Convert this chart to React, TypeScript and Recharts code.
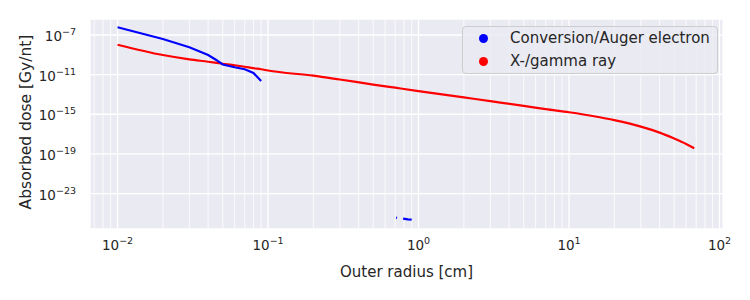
import { LineChart, Line, XAxis, YAxis, CartesianGrid, ReferenceLine } from 'recharts'

// outer radius [cm] and absorbed dose [Gy/nt]
const gammaRadius = [0.01, 0.02, 0.03, 0.04, 0.05, 0.06, 0.07, 0.08, 0.09, 0.1, 0.2, 0.3, 0.5, 0.7, 1, 2, 3, 5, 7, 10, 15, 20, 25, 30, 40, 50, 60, 68]
const gammaDose = [1.05e-8, 9.5e-10, 3.5e-10, 2.0e-10, 1.26e-10, 8.9e-11, 6.3e-11, 4.5e-11, 3.5e-11, 2.6e-11, 7.8e-12, 3.2e-12, 1.0e-12, 4.8e-13, 2.2e-13, 5.0e-14, 2.1e-14, 7.1e-15, 3.3e-15, 1.6e-15, 6.0e-16, 2.6e-16, 1.2e-16, 5.6e-17, 1.4e-17, 3.5e-18, 1.0e-18, 3.7e-19]

const electronRadius = [0.01, 0.02, 0.03, 0.04, 0.045, 0.05, 0.06, 0.07, 0.08, 0.09]
const electronDose = [6.0e-7, 4.0e-8, 5.8e-9, 9.5e-10, 3.2e-10, 1.05e-10, 5.6e-11, 3.5e-11, 1.5e-11, 2.3e-12]

// two stray fragments of the electron curve near 1 cm
const electronTailARadius = [0.71, 0.72]
const electronTailADose = [3.7e-26, 3.5e-26]
const electronTailBRadius = [0.79, 0.85, 0.9]
const electronTailBDose = [2.95e-26, 2.5e-26, 2.3e-26]

const xTicks = [0.01, 0.1, 1, 10, 100]
const yTicks = [1e-7, 1e-11, 1e-15, 1e-19, 1e-23]
const minorX = [0.007, 0.008, 0.009, 0.02, 0.03, 0.04, 0.05, 0.06, 0.07, 0.08, 0.09, 0.2, 0.3, 0.4, 0.5, 0.6, 0.7, 0.8, 0.9, 2, 3, 4, 5, 6, 7, 8, 9, 20, 30, 40, 50, 60, 70, 80, 90]

const seriesNames = ['Conversion/Auger electron', 'X-/gamma ray']
const seriesColors = ['#0000ff', '#ff0000']

const zip = (xs: number[], ys: number[]) => xs.map((x, i) => ({ r: x, dose: ys[i] }))

const gammaData = zip(gammaRadius, gammaDose)
const electronData = zip(electronRadius, electronDose)
const tailA = zip(electronTailARadius, electronTailADose)
const tailB = zip(electronTailBRadius, electronTailBDose)

const FONT = "'DejaVu Sans', sans-serif"
const TEXT = '#262626'

const expLabel = (v: number) => {
  const e = Math.round(Math.log10(v))
  return e < 0 ? '\u2212' + Math.abs(e) : String(e)
}

const XTick = ({ x, y, payload }: any) => (
  <text x={x} y={y} dy={13} textAnchor="middle" fill={TEXT} fontFamily={FONT} fontSize={13.5}>
    <tspan>10</tspan>
    <tspan dy={-6} fontSize={9.5}>{expLabel(payload.value)}</tspan>
  </text>
)

const YTick = ({ x, y, payload }: any) => (
  <text x={x - 6} y={y} dy={6} textAnchor="end" fill={TEXT} fontFamily={FONT} fontSize={13.5}>
    <tspan>10</tspan>
    <tspan dy={-6} fontSize={9.5}>{expLabel(payload.value)}</tspan>
  </text>
)

const LegendBox = () => (
  <div
    style={{
      position: 'absolute',
      left: 462,
      top: 26,
      width: 254,
      height: 46,
      background: 'rgba(234,234,242,0.8)',
      border: '1px solid #cccccc',
      borderRadius: 4,
      fontFamily: FONT,
      fontSize: 15,
      color: TEXT,
    }}
  >
    {seriesNames.map((name, i) => (
      <div key={name} style={{ position: 'absolute', left: 0, top: 1 + i * 23, height: 20, display: 'flex', alignItems: 'center' }}>
        <span style={{ display: 'inline-block', width: 9, height: 9, borderRadius: 5, background: seriesColors[i], marginLeft: 16 }} />
        <span style={{ marginLeft: 22, whiteSpace: 'nowrap' }}>{name}</span>
      </div>
    ))}
  </div>
)

export default function App() {
  return (
    <div style={{ position: 'absolute', left: 0, top: 0, width: 750, height: 300, background: '#fff' }}>
      <LineChart width={750} height={300} margin={{ top: 19, right: 27, bottom: 21, left: 18 }}>
        <CartesianGrid fill="#eaeaf2" stroke="#ffffff" strokeWidth={1.3} />
        {minorX.map((v) => (
          <ReferenceLine key={v} x={v} stroke="#ffffff" strokeWidth={0.8} />
        ))}
        <XAxis
          dataKey="r"
          type="number"
          scale="log"
          domain={[0.00656, 105.5]}
          allowDataOverflow
          ticks={xTicks}
          tick={<XTick />}
          tickLine={false}
          axisLine={false}
          height={50}
          label={{
            content: ({ viewBox }: any) => (
              <text x={viewBox.x + viewBox.width / 2} y={viewBox.y + 48} textAnchor="middle" fill={TEXT} fontFamily={FONT} fontSize={15}>
                Outer radius [cm]
              </text>
            ),
          }}
        />
        <YAxis
          dataKey="dose"
          type="number"
          scale="log"
          domain={[2.63e-27, 4.12e-6]}
          allowDataOverflow
          ticks={yTicks}
          tick={<YTick />}
          tickLine={false}
          axisLine={false}
          width={72}
          label={{
            content: ({ viewBox }: any) => {
              const cx = viewBox.x + 13
              const cy = viewBox.y + viewBox.height / 2 - 2
              return (
                <text x={cx} y={cy} transform={`rotate(-90 ${cx} ${cy})`} textAnchor="middle" fill={TEXT} fontFamily={FONT} fontSize={15.5}>
                  Absorbed dose [Gy/nt]
                </text>
              )
            },
          }}
        />
        <Line data={gammaData} dataKey="dose" type="monotone" name={seriesNames[1]} stroke={seriesColors[1]} strokeWidth={2.2} dot={false} isAnimationActive={false} />
        <Line data={electronData} dataKey="dose" name={seriesNames[0]} stroke={seriesColors[0]} strokeWidth={2.2} dot={false} isAnimationActive={false} />
        <Line data={tailA} dataKey="dose" stroke={seriesColors[0]} strokeWidth={2.2} dot={false} legendType="none" isAnimationActive={false} />
        <Line data={tailB} dataKey="dose" stroke={seriesColors[0]} strokeWidth={2.2} dot={false} legendType="none" isAnimationActive={false} />
      </LineChart>
      <LegendBox />
    </div>
  )
}
